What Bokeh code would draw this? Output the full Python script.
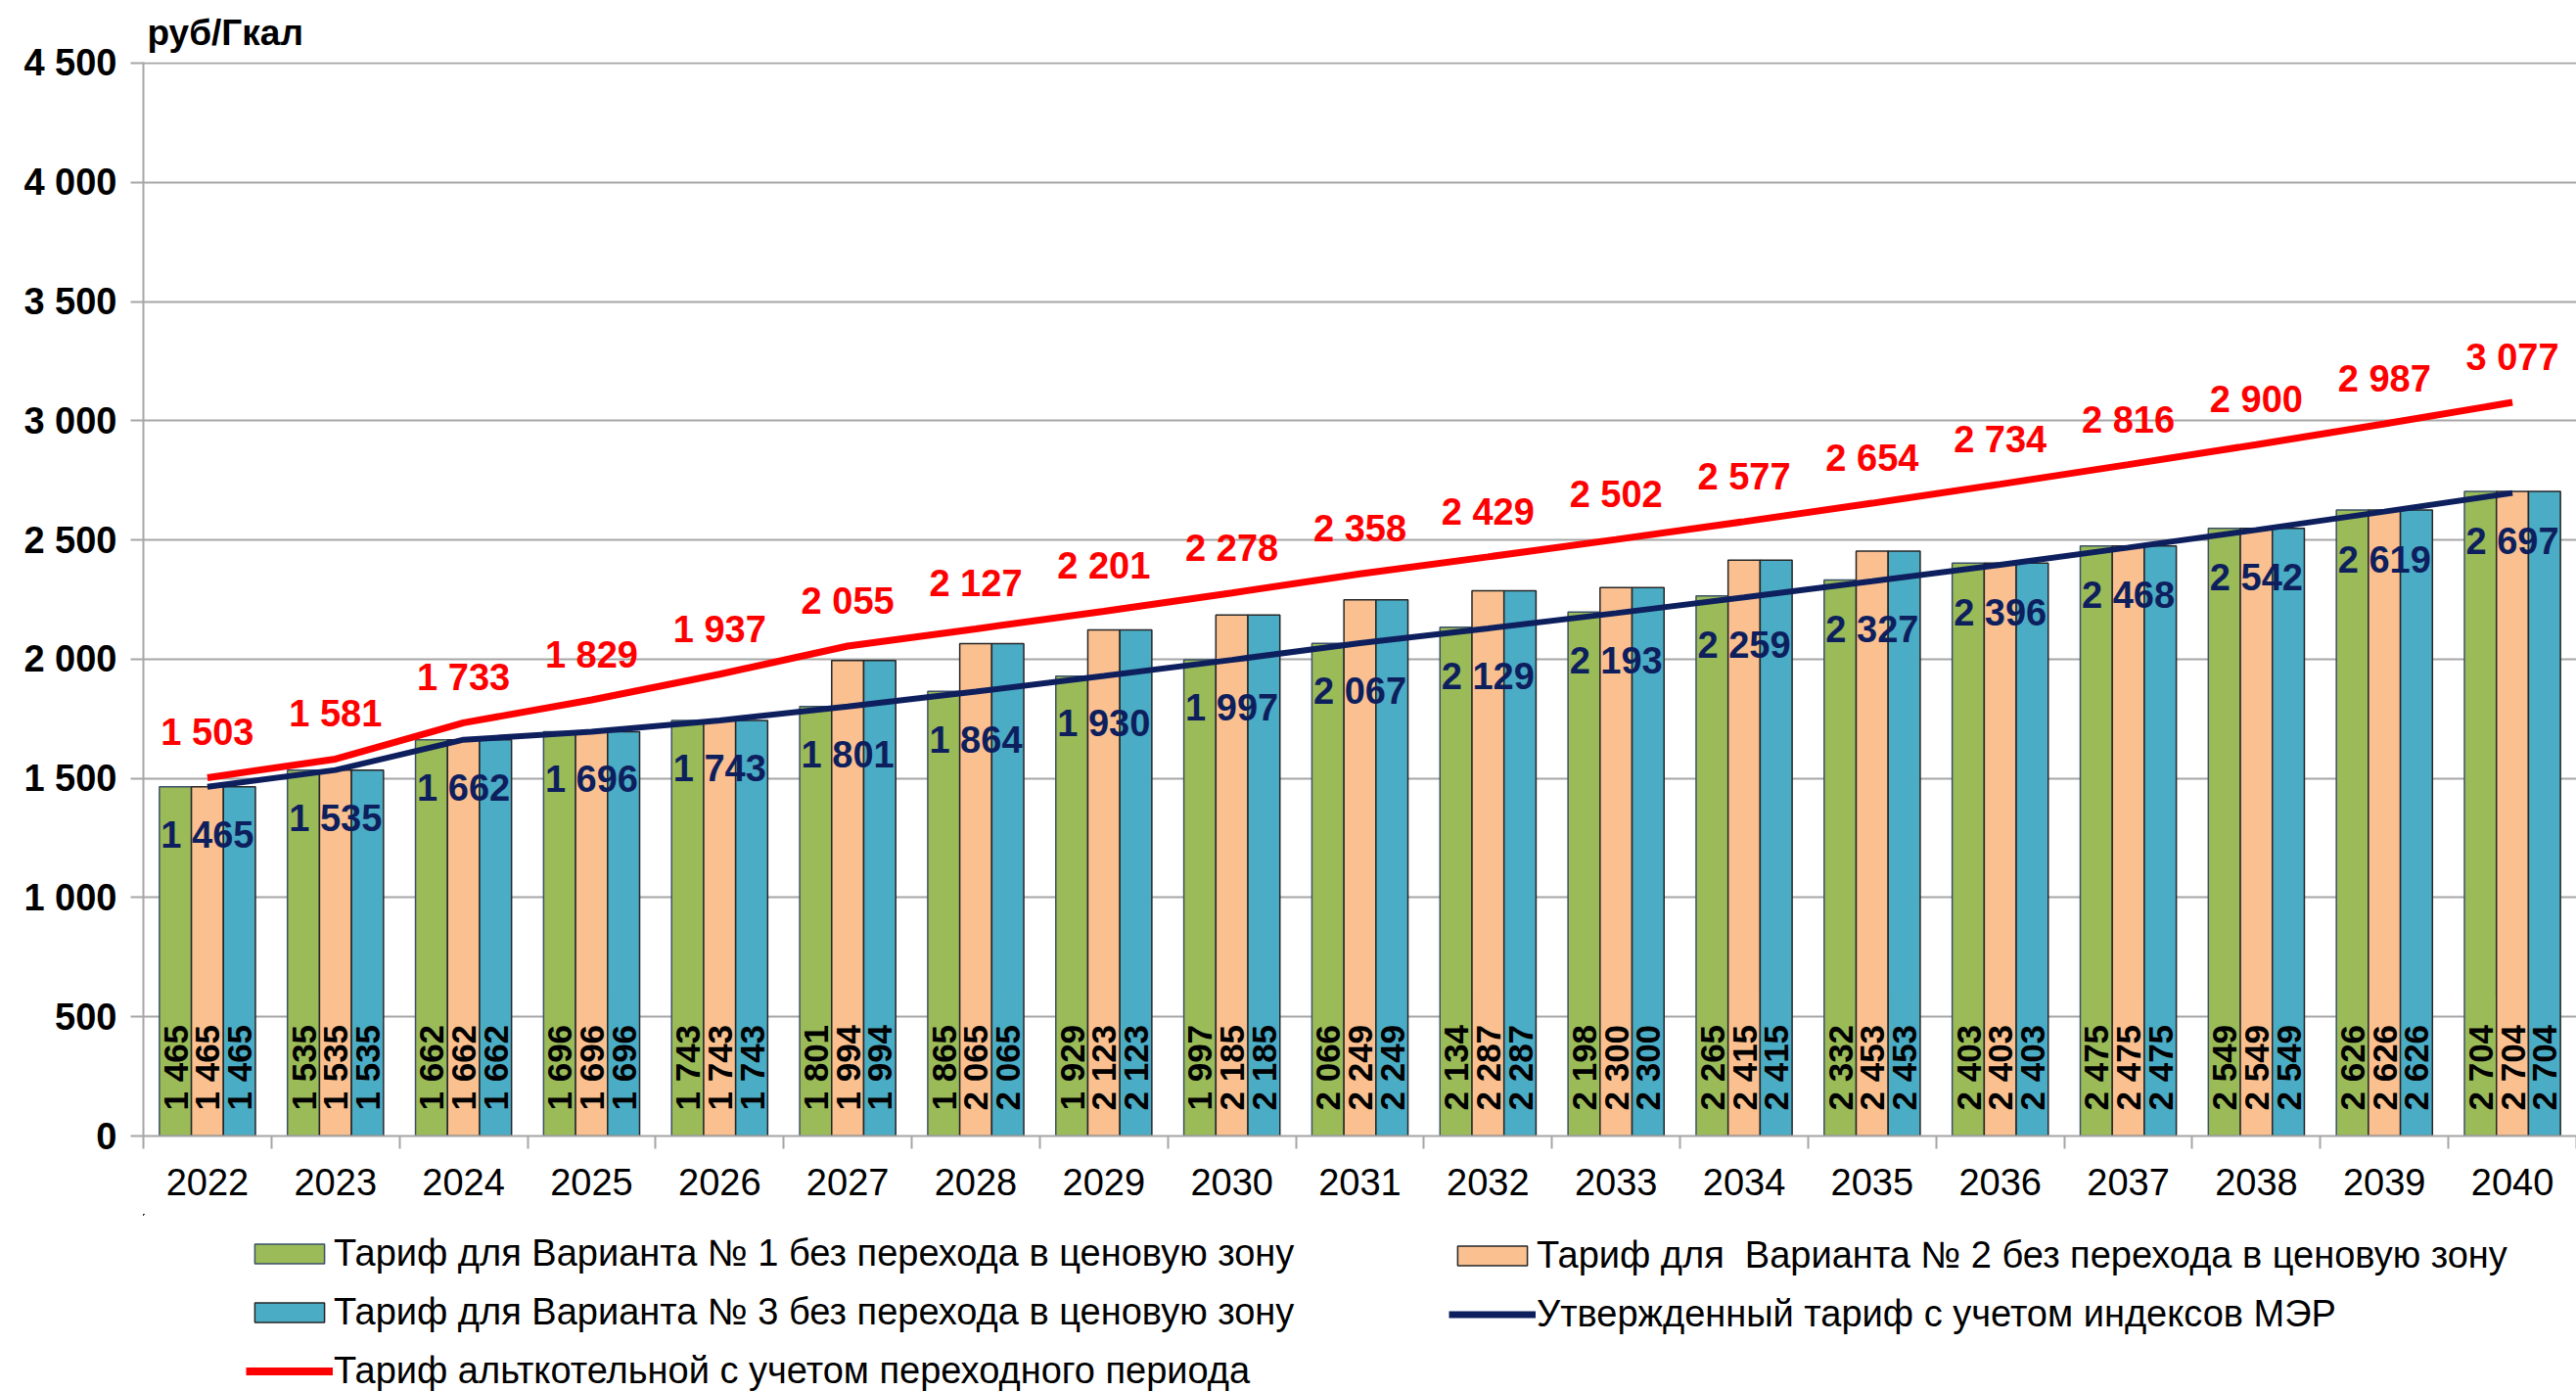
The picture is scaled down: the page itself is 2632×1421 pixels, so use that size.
import math
from bokeh.plotting import figure
from bokeh.layouts import column
from bokeh.models import (ColumnDataSource, FixedTicker, Legend, LegendItem, Range1d)
from bokeh.core.properties import value
from bokeh.embed import file_html
from bokeh.resources import INLINE

years = ["2022", "2023", "2024", "2025", "2026", "2027", "2028", "2029", "2030", "2031",
         "2032", "2033", "2034", "2035", "2036", "2037", "2038", "2039", "2040"]
var1 = [1465, 1535, 1662, 1696, 1743, 1801, 1865, 1929, 1997, 2066, 2134, 2198, 2265, 2332, 2403, 2475, 2549, 2626, 2704]
var2 = [1465, 1535, 1662, 1696, 1743, 1994, 2065, 2123, 2185, 2249, 2287, 2300, 2415, 2453, 2403, 2475, 2549, 2626, 2704]
var3 = [1465, 1535, 1662, 1696, 1743, 1994, 2065, 2123, 2185, 2249, 2287, 2300, 2415, 2453, 2403, 2475, 2549, 2626, 2704]
mer = [1465, 1535, 1662, 1696, 1743, 1801, 1864, 1930, 1997, 2067, 2129, 2193, 2259, 2327, 2396, 2468, 2542, 2619, 2697]
alt = [1503, 1581, 1733, 1829, 1937, 2055, 2127, 2201, 2278, 2358, 2429, 2502, 2577, 2654, 2734, 2816, 2900, 2987, 3077]

y_ticks = [0, 500, 1000, 1500, 2000, 2500, 3000, 3500, 4000, 4500]
y_tick_labels = ["0", "500", "1 000", "1 500", "2 000", "2 500", "3 000", "3 500", "4 000", "4 500"]

names = ["Тариф для Варианта № 1 без перехода в ценовую зону",
         "Тариф для  Варианта № 2 без перехода в ценовую зону",
         "Тариф для Варианта № 3 без перехода в ценовую зону",
         "Утвержденный тариф с учетом индексов МЭР",
         "Тариф альткотельной с учетом переходного периода"]
unit_label = "руб/Гкал"

FONT = "Liberation Sans"
colors = ["#9BBB59", "#FAC090", "#4BACC6"]
outlines = ["#3B5168", "#262626", "#262626"]
MER_COLOR = "#0E1F5E"
ALT_COLOR = "#FF0000"


def fmt(v):
    return f"{v:,}".replace(",", " ")


n = len(years)
xc = [i + 0.5 for i in range(n)]

p = figure(width=2632, height=1240, output_backend="svg", toolbar_location=None,
           x_range=Range1d(0, n), y_range=Range1d(0, 4504),
           min_border_left=146, min_border_right=0, min_border_top=62, min_border_bottom=80)
p.outline_line_color = None
p.background_fill_color = "white"
p.border_fill_color = "white"

p.title.text = unit_label
p.title.align = "left"
p.title.offset = 4
p.title.standoff = 20
p.title.text_font = FONT
p.title.text_font_style = "bold"
p.title.text_font_size = "37px"
p.title.text_color = "black"

bw = 0.25
series = [var1, var2, var3]
offs = [-bw, 0.0, bw]
bar_sources = []
for vals, col, oc, off in zip(series, colors, outlines, offs):
    src = ColumnDataSource(dict(x=[c + off for c in xc], top=vals, lab=[fmt(v) for v in vals],
                                y0=[0] * n))
    bar_sources.append(src)
    p.vbar(x="x", top="top", width=bw, source=src, fill_color=col, line_color=oc, line_width=1.5)
    p.text(x="x", y="y0", text="lab", source=src, angle=math.pi / 2, text_align="left",
           text_baseline="middle", y_offset=-26, text_font=value(FONT), text_font_style="bold",
           text_font_size="35px", text_color="black")

msrc = ColumnDataSource(dict(x=xc, y=mer, lab=[fmt(v) for v in mer]))
asrc = ColumnDataSource(dict(x=xc, y=alt, lab=[fmt(v) for v in alt]))
p.line(x="x", y="y", source=msrc, line_color=MER_COLOR, line_width=6)
p.line(x="x", y="y", source=asrc, line_color=ALT_COLOR, line_width=7)

p.text(x="x", y="y", text="lab", source=msrc, text_align="center", text_baseline="middle",
       y_offset=49, text_font=value(FONT), text_font_style="bold", text_font_size="38px",
       text_color=MER_COLOR)
p.text(x="x", y="y", text="lab", source=asrc, text_align="center", text_baseline="middle",
       y_offset=-46, text_font=value(FONT), text_font_style="bold", text_font_size="38px",
       text_color=ALT_COLOR)

# axes
grid_col = "#A6A6A6"
p.xgrid.visible = False
p.ygrid.grid_line_color = grid_col
p.ygrid.grid_line_width = 2
p.ygrid.ticker = FixedTicker(ticks=y_ticks)

ya = p.yaxis[0]
ya.ticker = FixedTicker(ticks=y_ticks)
ya.major_label_overrides = {t: l for t, l in zip(y_ticks, y_tick_labels)}
ya.axis_line_color = grid_col
ya.axis_line_width = 2
ya.major_tick_line_color = grid_col
ya.major_tick_line_width = 2
ya.major_tick_out = 13
ya.major_tick_in = 0
ya.minor_tick_line_color = None
ya.major_label_text_font = FONT
ya.major_label_text_font_style = "bold"
ya.major_label_text_font_size = "38px"
ya.major_label_text_color = "black"
ya.major_label_standoff = 14

xa = p.xaxis[0]
xa.ticker = FixedTicker(ticks=xc, minor_ticks=list(range(n + 1)))
xa.major_label_overrides = {c: y for c, y in zip(xc, years)}
xa.axis_line_color = grid_col
xa.axis_line_width = 2
xa.major_tick_line_color = None
xa.major_tick_out = 0
xa.major_tick_in = 0
xa.minor_tick_line_color = grid_col
xa.minor_tick_line_width = 2
xa.minor_tick_out = 13
xa.minor_tick_in = 0
xa.major_label_text_font = FONT
xa.major_label_text_font_size = "38px"
xa.major_label_text_color = "black"
xa.major_label_standoff = 20

# legend figure below the chart (its frame is aligned with the chart frame);
# its ranges keep the proxy glyphs out of view so that only the legend shows
lf = figure(width=2632, height=181, output_backend="svg", toolbar_location=None,
            x_range=Range1d(1000, 1001), y_range=Range1d(-20000, -19999),
            x_axis_type=None, y_axis_type=None, min_border=0)
lf.outline_line_color = None
lf.grid.visible = False
lr = []
for src, col, oc in zip(bar_sources, colors, outlines):
    lr.append(lf.vbar(x="x", top="top", width=bw, source=src,
                      fill_color=col, line_color=oc, line_width=1.5))
lr_mer = lf.line(x="x", y="y", source=msrc, line_color=MER_COLOR, line_width=7)
lr_alt = lf.line(x="x", y="y", source=asrc, line_color=ALT_COLOR, line_width=8)


def mk_legend(items, loc):
    lg = Legend(items=items, location=loc, orientation="vertical")
    lg.border_line_color = None
    lg.background_fill_alpha = 0
    lg.padding = 0
    lg.margin = 0
    lg.spacing = 17
    lg.glyph_width = 89
    lg.glyph_height = 25
    lg.label_standoff = 1
    lg.label_text_font = FONT
    lg.label_text_font_size = "38px"
    lg.label_text_color = "black"
    lg.label_height = 41
    return lg


leg1 = mk_legend([LegendItem(label=names[0], renderers=[lr[0]]),
                  LegendItem(label=names[2], renderers=[lr[2]]),
                  LegendItem(label=names[4], renderers=[lr_alt])], (105, -1))
leg2 = mk_legend([LegendItem(label=names[1], renderers=[lr[1]]),
                  LegendItem(label=names[3], renderers=[lr_mer])], (1334, 57))
lf.add_layout(leg1, "center")
lf.add_layout(leg2, "center")

open("out.html", "w").write(file_html(column(p, lf), INLINE))
